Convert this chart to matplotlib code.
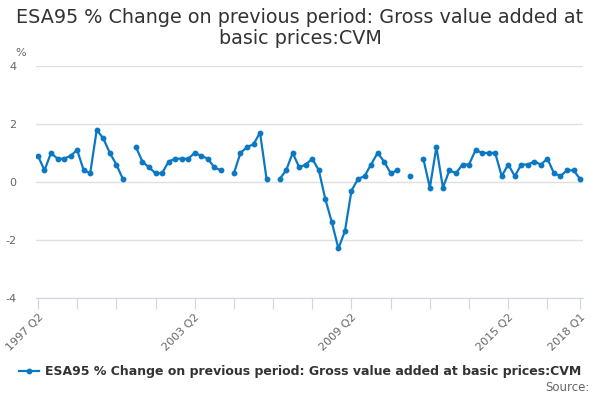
import matplotlib.pyplot as plt
import numpy as np

plt.rcParams['axes.unicode_minus'] = False

# quarters 1997 Q2 .. 2018 Q1
years = list(range(1997, 2019))
quarters = []
for yr in years:
    for q in range(1, 5):
        if (yr == 1997 and q < 2) or (yr == 2018 and q > 1):
            continue
        quarters.append(f'{yr} Q{q}')

nan = np.nan
values = [0.9, 0.4, 1.0, 0.8, 0.8, 0.9, 1.1, 0.4, 0.3, 1.8,
          1.5, 1.0, 0.6, 0.1, nan, 1.2, 0.7, 0.5, 0.3, 0.3,
          0.7, 0.8, 0.8, 0.8, 1.0, 0.9, 0.8, 0.5, 0.4, nan,
          0.3, 1.0, 1.2, 1.3, 1.7, 0.1, nan, 0.1, 0.4, 1.0,
          0.5, 0.6, 0.8, 0.4, -0.6, -1.4, -2.3, -1.7, -0.3, 0.1,
          0.2, 0.6, 1.0, 0.7, 0.3, 0.4, nan, 0.2, nan, 0.8,
          -0.2, 1.2, -0.2, 0.4, 0.3, 0.6, 0.6, 1.1, 1.0, 1.0,
          1.0, 0.2, 0.6, 0.2, 0.6, 0.6, 0.7, 0.6, 0.8, 0.3,
          0.2, 0.4, 0.4, 0.1]

series_name = 'ESA95 % Change on previous period: Gross value added at basic prices:CVM'
title = 'ESA95 % Change on previous period: Gross value added at\nbasic prices:CVM'

blue = '#0a78c2'
x = np.arange(len(quarters))
y = np.array(values)

fig = plt.figure(figsize=(6, 4), dpi=100)
ax = fig.add_axes([0.06, 0.2558, 0.9117, 0.579])

ax.plot(x, y, color=blue, lw=1.6, marker='o', ms=3.2, label=series_name)
ax.set_xlim(-0.3, 83.45)
ax.set_ylim(-4, 4)
ax.set_yticks([-4, -2, 0, 2, 4])
ax.grid(axis='y', color='#e0e0e0', lw=1)
ax.set_axisbelow(True)
for s in ['top', 'right', 'left']:
    ax.spines[s].set_visible(False)
ax.spines['bottom'].set_color('#ccd6eb')
ax.tick_params(axis='y', length=0, labelsize=8, labelcolor='#666666', pad=14)

tick_pos = list(range(0, len(quarters), 6)) + [len(quarters) - 1]
ax.set_xticks(tick_pos)
ax.set_xticklabels([quarters[i] if i % 24 == 0 or i == len(quarters) - 1 else '' for i in tick_pos],
                   rotation=45, ha='right', rotation_mode='anchor')
ax.tick_params(axis='x', length=8, color='#ccd6eb', labelsize=8, labelcolor='#666666', pad=2)

fig.text(0.025, 0.86, '%', fontsize=8, color='#666666')
fig.suptitle(title, fontsize=13.8, color='#333333', y=0.979, linespacing=1.08)

leg = fig.legend(loc='center', bbox_to_anchor=(0.5, 0.07), frameon=False,
                 prop={'size': 9, 'weight': 'bold'}, handlelength=1.6, handletextpad=0.5)
for t in leg.get_texts():
    t.set_color('#333333')
fig.text(0.982, 0.022, 'Source:', fontsize=8.5, color='#666666', ha='right')

fig.savefig('out.png', dpi=100)
